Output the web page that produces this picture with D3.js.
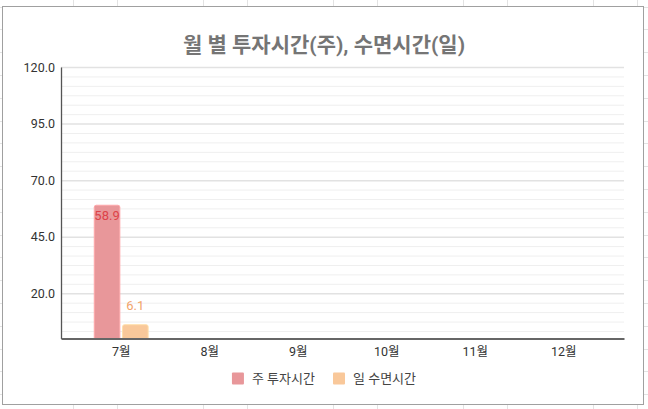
<!DOCTYPE html>
<html>
<head>
<meta charset="utf-8">
<script src="https://cdn.jsdelivr.net/npm/d3@7"></script>
<style>
  html, body { margin: 0; padding: 0; background: #fff; }
  text { font-family: Roboto, 'Noto Sans CJK KR', sans-serif; }
</style>
</head>
<body>
<div id="chart"></div>
<script>
const title = '월 별 투자시간(주), 수면시간(일)'
const months = ['7월', '8월', '9월', '10월', '11월', '12월']
const seriesNames = ['주 투자시간', '일 수면시간']
const investHours = [58.9, null, null, null, null, null]
const sleepHours = [6.1, null, null, null, null, null]
const yTicks = [20, 45, 70, 95, 120]
const sheetCols = [73, 117, 203, 247, 333, 377, 463, 507, 593, 637]

const width = 648
const height = 409
const margin = { top: 67, right: 24, bottom: 70.5, left: 61 }
const colors = ['#e8979a', '#f9c89a']
const labelColors = ['#dd4249', '#f2a46a']
const font = "Roboto, 'Noto Sans CJK KR', sans-serif"

const svg = d3.select('#chart')
  .append('svg')
  .attr('width', width)
  .attr('height', height)
  .attr('viewBox', [0, 0, width, height])

// spreadsheet cells behind the chart
const sheet = svg.append('g').attr('stroke', '#e3e3e3').attr('stroke-width', 1)
sheet.selectAll('line.col')
  .data(sheetCols)
  .join('line')
  .attr('x1', d => d + 0.5).attr('x2', d => d + 0.5)
  .attr('y1', 0).attr('y2', height)
sheet.selectAll('line.row')
  .data(d3.range(6.5, height, 22.8))
  .join('line')
  .attr('x1', 0).attr('x2', width)
  .attr('y1', d => Math.round(d) + 0.5).attr('y2', d => Math.round(d) + 0.5)

svg.append('rect')
  .attr('x', 2.5).attr('y', 6.5)
  .attr('width', 641).attr('height', 398)
  .attr('fill', '#fff')
  .attr('stroke', '#a0a0a0')

svg.append('text')
  .attr('x', 324)
  .attr('y', 51.5)
  .attr('text-anchor', 'middle')
  .attr('font-size', 21)
  .attr('font-weight', 'bold')
  .attr('fill', '#757575')
  .text(title)

const x0 = d3.scaleBand()
  .domain(months)
  .range([margin.left, width - margin.right])
  .paddingInner(0.38)
  .paddingOuter(0.37)

const x1 = d3.scaleBand()
  .domain(seriesNames)
  .range([0, x0.bandwidth()])
  .paddingInner(0.06)

const y = d3.scaleLinear()
  .domain([0, 120])
  .range([height - margin.bottom, margin.top])

const plotW = width - margin.left - margin.right

// minor gridlines: 6 steps between major ticks
const step = (yTicks[1] - yTicks[0]) / 6
const minorTicks = d3.range(yTicks[0] - step * 4, 120 + 0.01, step)
  .filter(v => v > 0.5 && !yTicks.some(t => Math.abs(t - v) < 0.01))

svg.append('g')
  .attr('transform', `translate(${margin.left},0)`)
  .call(d3.axisLeft(y).tickValues(minorTicks).tickSize(-plotW).tickFormat(''))
  .call(g => g.select('.domain').remove())
  .call(g => g.selectAll('line').attr('stroke', '#efefef').attr('stroke-width', 1))

svg.append('g')
  .attr('transform', `translate(${margin.left},0)`)
  .call(d3.axisLeft(y).tickValues(yTicks).tickSize(-plotW).tickFormat(''))
  .call(g => g.select('.domain').remove())
  .call(g => g.selectAll('line').attr('stroke', '#e2e2e2').attr('stroke-width', 1.5))

const rows = months.map((m, i) => ({ month: m, values: [investHours[i], sleepHours[i]] }))

const groups = svg.append('g')
  .selectAll('g')
  .data(rows)
  .join('g')
  .attr('transform', d => `translate(${x0(d.month)},0)`)

const bars = groups.selectAll('g')
  .data(d => d.values.map((v, i) => ({ key: seriesNames[i], value: v, i })).filter(d => d.value != null))
  .join('g')

bars.append('path')
  .attr('fill', d => colors[d.i])
  .attr('stroke', d => d3.color(colors[d.i]).brighter(0.3))
  .attr('stroke-width', 1)
  .attr('d', d => {
    const x = x1(d.key) + 0.5, w = x1.bandwidth() - 1
    const top = y(d.value), bot = y(0), r = 2
    return `M${x},${bot}V${top + r}Q${x},${top} ${x + r},${top}H${x + w - r}Q${x + w},${top} ${x + w},${top + r}V${bot}Z`
  })

bars.append('text')
  .attr('x', d => x1(d.key) + x1.bandwidth() / 2)
  .attr('y', d => (y(0) - y(d.value) > 30) ? y(d.value) + 10.5 : y(d.value) - 19.5)
  .attr('dy', '0.35em')
  .attr('text-anchor', 'middle')
  .attr('font-size', 13)
  .attr('fill', d => labelColors[d.i])
  .text(d => d3.format('.1f')(d.value))

// axes
svg.append('g')
  .attr('transform', `translate(${margin.left},0)`)
  .call(d3.axisLeft(y).tickValues(yTicks).tickFormat(d3.format('.1f')).tickSize(0).tickPadding(6).tickSizeOuter(0))
  .call(g => g.select('.domain').attr('stroke', '#555').attr('stroke-width', 1.3))
  .call(g => g.selectAll('text').attr('font-size', 12.5).attr('fill', '#333').attr('font-family', font))

svg.append('g')
  .attr('transform', `translate(0,${height - margin.bottom})`)
  .call(d3.axisBottom(x0).tickSize(0).tickPadding(9).tickSizeOuter(0))
  .call(g => g.select('.domain').attr('stroke', '#666').attr('stroke-width', 1.8))
  .call(g => g.selectAll('text').attr('font-size', 12.5).attr('fill', '#333').attr('font-family', font))

// legend
const legend = svg.append('g')
const items = legend.selectAll('g')
  .data(seriesNames)
  .join('g')
items.append('rect')
  .attr('width', 12).attr('height', 12)
  .attr('y', -6)
  .attr('rx', 1)
  .attr('fill', (d, i) => colors[i])
items.append('text')
  .attr('x', 20)
  .attr('dy', '0.35em')
  .attr('font-size', 13)
  .attr('fill', '#444')
  .text(d => d)

let lx = 0
items.each(function () {
  d3.select(this).attr('transform', `translate(${lx},0)`)
  lx += this.getBBox().width + 18
})
legend.attr('transform', `translate(${324 - (lx - 18) / 2},378.5)`)
</script>
</body>
</html>
